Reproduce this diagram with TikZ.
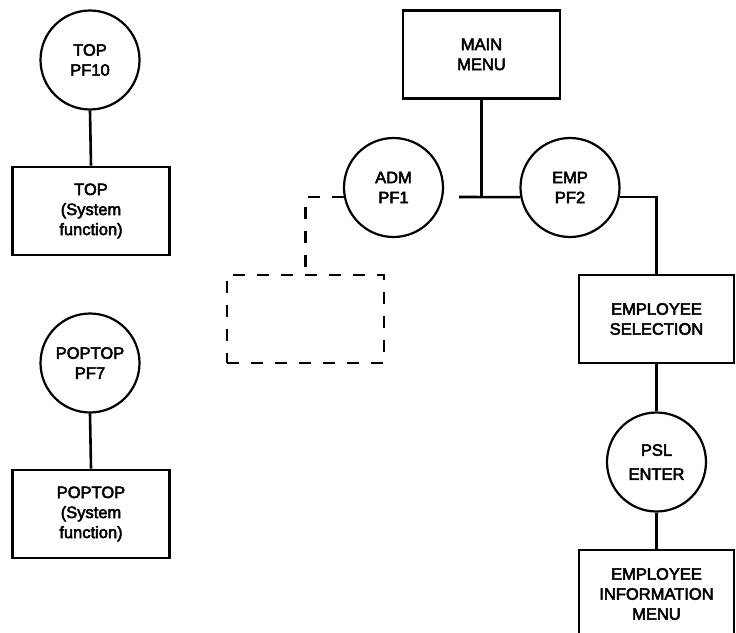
\documentclass[tikz,border=0pt]{standalone}
\usepackage{fontspec}
\setmainfont{Liberation Sans}
\newfontfamily\labelfont{Liberation Sans}[FakeBold=3]
\begin{document}
\begin{tikzpicture}[x=1pt,y=-1pt,
  every node/.style={font=\labelfont\fontsize{16.5}{20}\selectfont, align=center, inner sep=0pt},
  menubox/.style={draw, line width=2.6pt, minimum width=157pt, minimum height=88pt},
  stubbox/.style={draw, line width=2.6pt, dash pattern=on 12pt off 12pt, minimum width=157pt, minimum height=88pt},
  keycircle/.style={draw, circle, line width=2.2pt, minimum size=99pt},
  link/.style={line width=2.6pt},
  stublink/.style={line width=2.6pt, dash pattern=on 12pt off 12pt}]
\useasboundingbox (0,0) rectangle (736,632);
\fill[white] (0,0) rectangle (736,632);

% system functions, left column
\node[keycircle] (top) at (90,60) {TOP\\PF10};
\node[menubox] (topbox) at (91,211) {TOP\\(System\\function)};
\node[keycircle] (poptop) at (90,363) {POPTOP\\PF7};
\node[menubox] (popbox) at (91,514) {POPTOP\\(System\\function)};
\draw[link] (top.south) -- (topbox.north);
\draw[link] (poptop.south) -- (popbox.north);

% main menu and its function keys
\node[menubox] (main) at (481.5,54.5) {MAIN\\MENU};
\node[keycircle] (adm) at (393.5,187.5) {ADM\\PF1};
\node[keycircle] (emp) at (570,187.5) {EMP\\PF2};
\node[stubbox] (stub) at (305.5,319) {};
\coordinate (jn) at (main.south |- emp.191);
\coordinate (hl) at (459,197);
\draw[link] (main.south) -- (jn);
\draw[link] (hl) -- (emp.191);
\draw[stublink] (adm.191) -| (stub.north);

% employee branch
\node[menubox, minimum width=155pt] (sel) at (656.5,319) {EMPLOYEE\\SELECTION};
\node[keycircle] (psl) at (656.5,462) {PSL\\[4pt]ENTER};
\node[menubox, minimum width=155pt] (info) at (656.5,594) {EMPLOYEE\\INFORMATION\\MENU};
\draw[link] (emp.-11) -| (sel.north);
\draw[link] (sel.south) -- (psl.north);
\draw[link] (psl.south) -- (info.north);
\end{tikzpicture}
\end{document}
